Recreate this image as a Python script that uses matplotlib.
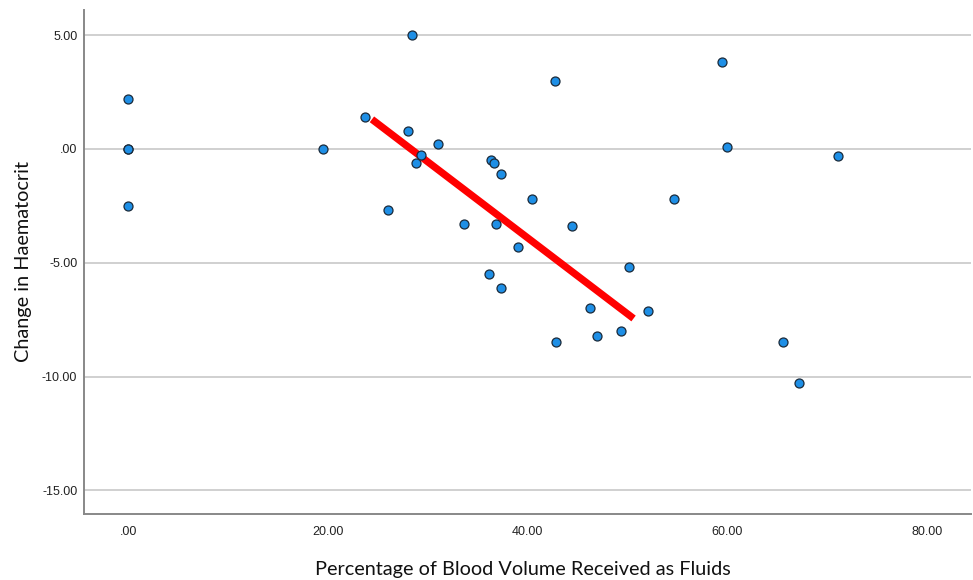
import matplotlib.pyplot as plt
from matplotlib.ticker import FuncFormatter

# blood volume % received as fluids vs change in haematocrit
pct_fluids = [0.0, 0.0, 0.0, 0.0, 19.5, 23.75, 28.4, 28.0, 31.0, 29.3, 28.8, 26.0,
              36.3, 36.6, 37.3, 40.4, 42.7, 33.6, 36.8, 44.4, 39.0, 36.1, 37.3,
              46.2, 42.8, 46.9, 49.3, 50.1, 52.0, 54.7, 59.5, 60.0, 71.1, 65.6, 67.2]
hct_change = [2.2, 0.0, 0.0, -2.5, 0.0, 1.4, 5.0, 0.8, 0.2, -0.28, -0.6, -2.7,
              -0.5, -0.6, -1.1, -2.2, 3.0, -3.3, -3.3, -3.4, -4.3, -5.5, -6.1,
              -7.0, -8.5, -8.2, -8.0, -5.2, -7.1, -2.2, 3.8, 0.1, -0.3, -8.5, -10.3]

# fitted line drawn over the middle range
fit_x = [24.4, 50.6]
fit_y = [1.3, -7.45]

x_ticks = [0, 20, 40, 60, 80]
y_ticks = [5, 0, -5, -10, -15]


def spss_fmt(v, pos=None):
    s = f"{v:.2f}"
    if s in ("0.00", "-0.00"):
        s = ".00"
    return s


def main() -> None:
    fig = plt.figure(figsize=(9.73, 5.8), dpi=100)
    ax = fig.add_axes([0.0866, 0.1138, 0.9114, 0.8692])

    for y in y_ticks:
        ax.axhline(y, color="#c8c8c8", linewidth=1.2, zorder=1)

    ax.plot(fit_x, fit_y, color="#ff0000", linewidth=5.2, solid_capstyle="butt", zorder=2)
    ax.scatter(pct_fluids, hct_change, s=42, color="#1e8fe6", edgecolors="#1a2a3a",
               linewidths=0.9, zorder=3)

    ax.set_xlim(-4.41, 84.4)
    ax.set_ylim(-16.04, 6.11)
    ax.set_xticks(x_ticks)
    ax.set_yticks(y_ticks)
    ax.xaxis.set_major_formatter(FuncFormatter(spss_fmt))
    ax.yaxis.set_major_formatter(FuncFormatter(spss_fmt))
    ax.tick_params(axis="both", length=0, labelsize=9, colors="#222222")
    ax.tick_params(axis="x", pad=9)
    ax.tick_params(axis="y", pad=5)
    for lab in ax.get_xticklabels() + ax.get_yticklabels():
        lab.set_family("Liberation Sans")

    for side in ("top", "right"):
        ax.spines[side].set_visible(False)
    for side in ("left", "bottom"):
        ax.spines[side].set_color("#888888")
        ax.spines[side].set_linewidth(1.4)

    fig.text(0.5375, 0.0175, "Percentage of Blood Volume Received as Fluids",
             ha="center", va="center", fontsize=14.3, family="Lato", color="#111111")
    fig.text(0.024, 0.55, "Change in Haematocrit", rotation=90,
             ha="center", va="center", fontsize=14.3, family="Lato", color="#111111")

    fig.savefig("out.png", dpi=100)
    plt.close(fig)


if __name__ == "__main__":
    main()
